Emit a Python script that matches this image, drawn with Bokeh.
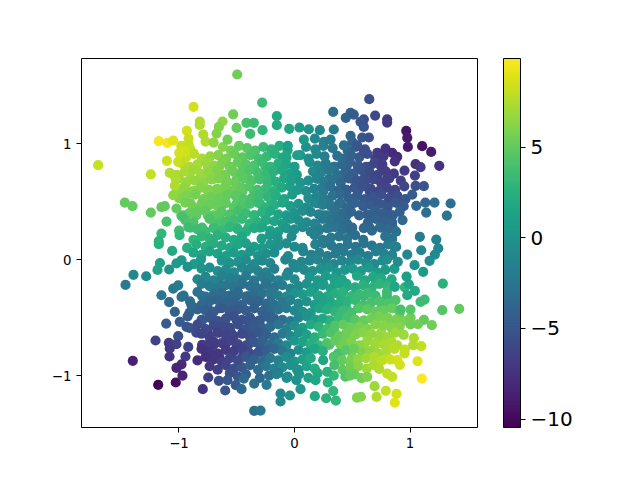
from bokeh.embed import file_html
from bokeh.resources import INLINE
from bokeh.plotting import figure
from bokeh.models import ColorBar, LinearColorMapper, FixedTicker, ColumnDataSource, Range1d
from bokeh.palettes import Viridis256

c_low, c_high = -10.46, 9.89
x_ticks = [-1, 0, 1]
y_ticks = [-1, 0, 1]
bar_ticks = [-10, -5, 0, 5]

# points read one at a time around the rim of the cloud
edge_x = [-0.496,-0.28,-0.874,-0.531,-0.153,-0.153,-0.82,-0.82,-0.623,-0.655,-0.675,-0.416,-0.352,-0.277,-0.384,-0.502,-0.932,-1.175,-1.1,-1.05,-0.917,-0.917,-0.79,-0.77,-0.7,-0.58,-1.7,-1.244,-1.105,-0.998,-0.95,-1.007,
 -1.469,-1.403,-1.244,-1.152,-1.123,-1.022,-1.05,-1.036,-1.08,-1.03,-1.108,-1.152,-1.175,-0.972,-1.175,-1.059,-1.186,-1.165,-1.394,-1.284,-1.463,-1.085,-1.022,-0.978,-0.926,-0.805,
 -1.152,-1.05,-1.007,-1.085,-0.978,-0.892,-1.036,-1.111,-0.993,-0.935,-1.007,-1.203,-1.088,-1.022,-1.08,-0.92,-1.082,-0.944,-1.4,-0.978,-1.022,-0.97,-1.18,-1.028,-0.794,-0.747,-0.655,-0.6,-0.58,-0.508,-0.459,-0.439,-0.349,-0.242,-0.349,-0.294,-0.156,-0.121,-0.121,
 -0.04,0.052,0.176,0.274,0.358,0.335,0.54,0.575,0.71,0.79,0.693,0.883,0.868,1.102,1.065,0.846,0.802,0.733,0.912,0.889,0.831,0.952,0.955,1.097,1.033,1.027,1.189,1.426,1.279,1.284,1.12,1.068,1.004,1.004,0.918,1.091,1.126,1.042,0.976,0.99,0.97,0.868,1.114,1.039,1.097,1.169,1.215,1.244,0.976,0.894,0.86,
 0.479,0.58,0.629,0.288,0.182,0.248,0.017,-0.069,0.023,0.283,
 0.647,0.335,0.485,0.444,0.513,0.698,0.802,0.802,0.6,0.571,0.6,0.967,0.976,0.981,1.105,1.183,1.253,1.048,1.091,0.952,1.042,1.048,1.12,1.019,1.351,1.212,1.132,1.054,1.14,1.319,1.085,1.227,
 -0.046,0.043,0.124,0.081,0.219,0.34,0.176,0.254,0.312,0.427,0.485,0.5,0.586,0.644,0.543,0.6,0.716,0.788,0.846,0.889,0.868,-0.058,0.023,-0.069,0.37]
edge_y = [1.595,1.353,1.316,1.252,1.236,1.158,1.19,1.16,1.19,1.143,1.086,1.178,1.178,1.115,1.084,1.135,1.11,1.02,1.006,1.026,1.043,0.99,1.078,1.017,1.008,1.034,0.813,0.735,0.851,0.92,0.928,0.842,
 0.491,0.46,0.405,0.451,0.46,0.44,0.554,0.64,0.747,0.7,0.327,0.224,0.158,0.37,0.132,0.075,-0.09,-0.03,-0.132,-0.144,-0.218,-0.086,-0.034,-0.006,-0.063,-0.078,
 -0.308,-0.25,-0.222,-0.368,-0.322,-0.394,-0.451,-0.552,-0.537,-0.58,-0.661,-0.698,-0.718,-0.73,-0.767,-0.753,-0.836,-0.836,-0.873,-0.903,-0.934,-1.0,-1.08,-1.06,-1.118,-1.017,-1.046,-1.129,-1.04,-1.083,-1.118,-1.026,-1.069,-1.08,-1.304,-1.302,-0.989,-1.155,-1.224,
 -1.172,-1.118,-1.178,-1.196,-1.216,-1.135,-1.19,-1.183,-1.184,-1.132,-1.092,-1.158,-1.233,-1.026,-0.877,-1.011,-0.983,-0.943,-0.908,-0.868,-0.862,-0.81,-0.776,-0.747,-0.678,-0.739,-0.566,-0.425,-0.437,-0.207,-0.52,-0.558,-0.56,-0.431,-0.431,-0.365,-0.345,-0.27,-0.308,-0.213,-0.147,-0.236,-0.106,-0.049,0.08,-0.011,0.043,0.097,0.043,-0.02,0.115,
 -1.0,-1.023,-1.011,-1.06,-1.04,-0.868,-1.04,-1.02,-0.954,-0.968,
 1.382,1.273,1.264,1.222,1.25,1.241,1.209,1.181,1.209,1.187,1.143,1.11,1.049,0.971,0.977,0.928,0.808,0.822,0.796,0.767,0.724,0.635,0.632,0.56,0.483,0.491,0.491,0.463,0.405,0.379,0.196,0.172,
 1.127,1.138,1.123,1.034,1.115,1.121,1.043,1.015,1.034,0.985,1.066,1.015,1.052,1.052,0.985,0.928,0.92,0.957,0.92,0.885,0.847,0.98,0.899,0.879,0.894]
edge_c = [5.5,3.5,8.5,5.5,2,2,7.5,7.5,6.5,6,6,4,3.5,3,3.5,5,8.5,9.7,9.5,9,8.3,8,7.5,7.5,6.5,5.5,8.2,8,8.3,8.5,8.5,8.3,
 5,5,5,5,5,5,6.5,7.5,7.5,7.5,4,3,2.5,4,2.5,2,1.3,1.3,-1,-0.8,-2,0,0.5,0.5,0,0,
 -2.5,-2.5,-2,-3.5,-3,-3.5,-4,-4.5,-4.5,-5,-5.5,-6.5,-7,-6.5,-7,-6.5,-7.5,-7,-8.7,-8,-8.3,-8.5,-10.3,-9.7,-7.5,-6.5,-5.5,-5,-5,-4.5,-3.5,-3.5,-3,-2,-3,-2.5,-1.5,-1,-1,
 0,0.5,2,2.5,3,3,6,6,7.5,8,7,8.5,9,9.9,9,8,8,7.5,8.5,8.5,8.3,8,8,8,7.5,7.5,5.5,5,4.5,2.5,5,5.5,5.5,4.5,4,3.5,3.5,2,2,1.5,1,1.5,0.5,0,-1,-0.5,-0.7,-1,-1,-0.5,-1.5,
 5,5.5,6,2.5,1.5,1.5,0,-0.5,0,2.5,
 -5.5,-3,-4,-4,-4.5,-6,-7,-7,-5.5,-5,-5,-9.3,-9,-9,-9.5,-9,-7.5,-7.5,-7,-7,-6.5,-5.5,-5,-4.5,-3,-3,-3.5,-3.5,-3,-2.5,-2,-1.5,
 1.5,0.5,0,0.5,-1,-2,-1,-1.5,-2,-3,-4,-4,-5,-5.5,-5,-5.5,-7,-7.5,-8,-8,-7.5,1,1,1.5,-3]

# the four dense lobes, read row by row
lobe_y = [0.8,0.695,0.59,0.485,0.38,0.275,-0.21,-0.315,-0.42,-0.525,-0.63,-0.735,-0.84]
lobe_x = [
 [-0.85,-0.75,-0.65,-0.55,-0.45,-0.35,-0.25,0.25,0.35,0.45,0.55,0.65,0.75],
 [-0.9,-0.8,-0.7,-0.6,-0.5,-0.4,-0.3,-0.2,0.2,0.3,0.4,0.5,0.6,0.7,0.8],
 [-0.95,-0.85,-0.75,-0.65,-0.55,-0.45,-0.35,-0.25,0.25,0.35,0.45,0.55,0.65,0.75,0.85],
 [-0.9,-0.8,-0.7,-0.6,-0.5,-0.4,-0.3,-0.2,0.2,0.3,0.4,0.5,0.6,0.7,0.8,0.9],
 [-0.95,-0.85,-0.75,-0.65,-0.55,-0.45,-0.35,-0.25,0.25,0.35,0.45,0.65,0.75,0.85],
 [-0.9,-0.8,-0.7,-0.6,-0.5,-0.4,-0.3,0.2,0.3,0.4,0.5,0.65,0.75,0.85],
 [-0.75,-0.65,-0.55,-0.45,-0.35,-0.25,0.25,0.35,0.45,0.6,0.7,0.8],
 [-0.8,-0.7,-0.6,-0.5,-0.4,-0.3,-0.2,0.2,0.3,0.4,0.5,0.6,0.7,0.8],
 [-0.85,-0.75,-0.65,-0.55,-0.45,-0.35,-0.25,0.25,0.35,0.45,0.55,0.65,0.75,0.85],
 [-0.8,-0.7,-0.6,-0.5,-0.4,-0.3,-0.2,0.2,0.3,0.4,0.5,0.6,0.7,0.8,0.9],
 [-0.85,-0.75,-0.65,-0.55,-0.45,-0.35,-0.25,0.25,0.35,0.45,0.55,0.65,0.75,0.85],
 [-0.8,-0.7,-0.6,-0.5,-0.4,-0.3,-0.2,0.3,0.4,0.5,0.6,0.7,0.8],
 [-0.75,-0.65,-0.55,-0.45,-0.35,-0.25,0.4,0.5,0.6,0.7,0.8],
]
lobe_c = [
 [7.3,6.8,6.2,5.5,4.9,4.1,3.1,-1.8,-2.9,-3.9,-4.8,-5.7,-6.6],
 [6.9,6.6,6.2,5.7,5.2,4.6,3.6,2.6,-1.2,-2.5,-3.7,-4.6,-5.3,-5.9,-6.4],
 [6.2,6,5.8,5.6,5.2,4.8,4,3.1,-2.1,-3.3,-4.2,-5,-5.6,-6,-6.2],
 [5.5,5.4,5.2,5,4.6,4,3.1,2.3,-1.5,-2.5,-3.5,-4.1,-4.6,-5,-5.1,-4.9],
 [4.7,4.8,4.7,4.5,4.2,3.6,2.9,2.2,-2,-2.9,-3.5,-4.2,-4.4,-4.3],
 [3.7,3.7,3.6,3.4,3,2.5,1.9,-1.6,-2.4,-3,-3.4,-3.7,-3.6,-3.1],
 [-2.1,-2.4,-2.6,-2.8,-2.9,-2.7,1.1,1.4,1.9,2.5,2.7,2.8],
 [-2.9,-3.1,-3.3,-3.4,-3.4,-3.3,-2.7,1.1,1.7,2.3,2.8,3.3,3.5,3.5],
 [-3.7,-4.2,-4.5,-4.7,-4.6,-4.3,-3.8,1.7,2.6,3.4,4.1,4.6,4.9,5],
 [-5,-5.3,-5.6,-5.5,-5.2,-4.6,-3.7,1.8,2.7,3.7,4.7,5.3,5.7,5.8,5.7],
 [-6,-6.3,-6.4,-6.2,-5.8,-5.1,-4.2,3.7,4.8,5.5,6,6.5,6.8,6.9],
 [-7,-7,-6.8,-6.4,-5.7,-4.8,-3.5,4.3,5.3,6,6.8,7.2,7.5],
 [-7.4,-7.2,-6.6,-5.8,-4.8,-3.6,4.7,5.7,6.7,7.4,7.8],
]

# points inside the cloud, read row by row
row_y = [0.96,0.89,0.82,0.75,0.68,0.61,0.54,0.47,0.40,0.33,0.26,0.19,0.12,0.05,-0.02,-0.09,-0.16,-0.23,-0.30,-0.37,-0.44,-0.51,-0.58,-0.65,-0.72,-0.79,-0.86,-0.93,-1.0]
row_shift = [0,0,0,0,0,0,0,0.015,0,0.015,0,-0.015,0.03,0.025,-0.03,0.025,-0.04,0.035,-0.04,0.035,-0.01,0.035,-0.03,0.015,-0.01,0.035,-0.04,-0.015,0]
row_x = [
 [-0.98,-0.9,-0.62,-0.55,-0.48,-0.41,-0.34,-0.27,-0.2,-0.13,-0.06,0.1,0.18,0.25,0.33,0.46,0.53,0.61],
 [-0.94,-0.87,-0.8,-0.73,-0.66,-0.59,-0.52,-0.45,-0.38,-0.31,-0.24,-0.17,-0.1,0.05,0.12,0.19,0.26,0.42,0.49,0.56,0.63,0.7,0.77],
 [-0.98,-0.91,-0.84,-0.77,-0.7,-0.63,-0.56,-0.49,-0.42,-0.35,-0.28,-0.21,-0.14,-0.07,0.0,0.13,0.2,0.27,0.34,0.41,0.48,0.55,0.62,0.69,0.76],
 [-1.02,-0.95,-0.88,-0.81,-0.74,-0.67,-0.6,-0.53,-0.46,-0.39,-0.32,-0.25,-0.18,-0.11,-0.04,0.02,0.16,0.23,0.3,0.37,0.44,0.51,0.58,0.65,0.72,0.79,0.86],
 [-1.0,-0.93,-0.86,-0.79,-0.72,-0.65,-0.58,-0.51,-0.44,-0.37,-0.3,-0.23,-0.16,-0.09,-0.02,0.05,0.12,0.19,0.26,0.33,0.4,0.47,0.54,0.61,0.68,0.75,0.82,0.92],
 [-1.02,-0.95,-0.88,-0.81,-0.74,-0.67,-0.6,-0.53,-0.46,-0.39,-0.32,-0.25,-0.18,-0.11,-0.04,0.03,0.1,0.17,0.24,0.31,0.38,0.45,0.52,0.59,0.66,0.73,0.8,0.87,0.95],
 [-1.0,-0.93,-0.86,-0.79,-0.72,-0.65,-0.58,-0.51,-0.44,-0.37,-0.3,-0.23,-0.16,-0.09,-0.02,0.12,0.19,0.26,0.33,0.4,0.47,0.54,0.61,0.68,0.75,0.82,0.89,0.96],
 [-0.96,-0.89,-0.82,-0.75,-0.68,-0.61,-0.54,-0.47,-0.4,-0.33,-0.26,-0.19,-0.12,-0.05,0.02,0.09,0.16,0.23,0.3,0.37,0.44,0.51,0.58,0.65,0.72,0.79,0.86,0.93],
 [-0.98,-0.91,-0.84,-0.77,-0.7,-0.63,-0.56,-0.49,-0.42,-0.35,-0.28,-0.21,-0.14,-0.07,0.0,0.07,0.14,0.21,0.28,0.35,0.42,0.49,0.56,0.63,0.7,0.77,0.84,0.91],
 [-0.96,-0.89,-0.75,-0.68,-0.61,-0.54,-0.47,-0.4,-0.33,-0.26,-0.19,-0.12,-0.05,0.02,0.09,0.16,0.23,0.3,0.37,0.44,0.62,0.69,0.76,0.83,0.92],
 [-1.0,-0.92,-0.84,-0.77,-0.7,-0.63,-0.56,-0.49,-0.42,-0.35,-0.28,-0.21,-0.14,-0.07,0.0,0.07,0.14,0.21,0.28,0.35,0.42,0.49,0.6,0.67,0.74,0.81,0.88],
 [-0.98,-0.86,-0.79,-0.72,-0.65,-0.58,-0.51,-0.44,-0.27,-0.2,-0.13,-0.01,0.19,0.26,0.33,0.4,0.47,0.54,0.61,0.8,0.86],
 [-0.96,-0.88,-0.8,-0.73,-0.66,-0.59,-0.52,-0.45,-0.38,-0.31,-0.24,-0.17,-0.1,-0.03,0.04,0.15,0.22,0.29,0.36,0.43,0.5,0.57,0.64,0.71,0.78,0.85],
 [-0.9,-0.83,-0.76,-0.69,-0.62,-0.55,-0.48,-0.41,-0.34,-0.27,-0.2,-0.08,0.05,0.12,0.19,0.26,0.33,0.4,0.47,0.54,0.61,0.68,0.75,0.82],
 [-0.84,-0.78,-0.6,-0.53,-0.46,-0.39,-0.32,-0.25,-0.18,-0.05,0.02,0.09,0.16,0.23,0.3,0.37,0.44,0.51,0.58,0.65,0.72,0.79,0.83],
 [-0.76,-0.69,-0.62,-0.55,-0.48,-0.41,-0.34,-0.27,-0.2,-0.08,-0.01,0.06,0.13,0.2,0.27,0.34,0.41,0.48,0.55,0.62,0.69,0.76,0.84],
 [-0.8,-0.73,-0.66,-0.59,-0.52,-0.45,-0.38,-0.31,-0.24,-0.17,-0.1,-0.03,0.04,0.17,0.24,0.31,0.38,0.45,0.58,0.65,0.72,0.79,0.88],
 [-0.84,-0.77,-0.7,-0.63,-0.56,-0.49,-0.42,-0.35,-0.28,-0.21,-0.14,-0.07,0.0,0.07,0.14,0.21,0.28,0.35,0.42,0.49,0.56,0.63,0.7,0.77,0.92],
 [-0.92,-0.8,-0.73,-0.66,-0.59,-0.52,-0.45,-0.38,-0.31,-0.24,-0.17,-0.1,-0.03,0.04,0.11,0.18,0.25,0.32,0.39,0.46,0.53,0.6,0.67,0.74,0.84],
 [-0.94,-0.84,-0.77,-0.7,-0.63,-0.56,-0.49,-0.42,-0.35,-0.28,-0.21,-0.14,-0.07,0.0,0.07,0.14,0.21,0.28,0.35,0.42,0.49,0.56,0.63,0.7,0.77,0.84],
 [-0.9,-0.83,-0.76,-0.69,-0.62,-0.55,-0.48,-0.41,-0.34,-0.27,-0.2,-0.13,-0.06,0.01,0.08,0.15,0.22,0.29,0.36,0.43,0.5,0.57,0.64,0.71,0.78,0.85,0.92],
 [-0.96,-0.84,-0.77,-0.7,-0.63,-0.56,-0.49,-0.42,-0.35,-0.28,-0.21,-0.14,-0.07,0.0,0.07,0.14,0.21,0.28,0.35,0.42,0.49,0.56,0.63,0.7,0.77,0.84,0.91,0.97],
 [-0.88,-0.81,-0.74,-0.67,-0.6,-0.53,-0.46,-0.39,-0.32,-0.25,-0.18,-0.11,-0.04,0.03,0.1,0.17,0.24,0.31,0.38,0.45,0.52,0.59,0.66,0.73,0.8,0.87,0.94],
 [-0.82,-0.75,-0.68,-0.61,-0.54,-0.47,-0.4,-0.33,-0.26,-0.19,-0.12,-0.05,0.02,0.09,0.16,0.23,0.3,0.37,0.44,0.51,0.58,0.65,0.72,0.79,0.86,0.93],
 [-0.76,-0.69,-0.62,-0.55,-0.48,-0.41,-0.34,-0.27,-0.2,-0.13,-0.06,0.01,0.08,0.15,0.22,0.29,0.36,0.43,0.5,0.57,0.64,0.71,0.78,0.85,0.9],
 [-0.84,-0.77,-0.7,-0.63,-0.56,-0.49,-0.42,-0.35,-0.28,-0.21,-0.14,-0.07,0.0,0.07,0.14,0.21,0.34,0.41,0.48,0.55,0.62,0.69,0.76,0.83],
 [-0.8,-0.73,-0.66,-0.59,-0.52,-0.45,-0.38,-0.31,-0.24,-0.17,-0.1,-0.03,0.04,0.11,0.18,0.38,0.45,0.52,0.59,0.66,0.73,0.8],
 [-0.72,-0.65,-0.58,-0.51,-0.44,-0.37,-0.3,-0.23,-0.16,-0.09,-0.02,0.05,0.12,0.19,0.36,0.43,0.5,0.57,0.64,0.7],
 [-0.56,-0.49,-0.42,-0.3,-0.22,-0.14,-0.06,0.04,0.12,0.2,0.34,0.44,0.52],
]
# how far each point sits above or below its row, in hundredths
row_nudge = [
 [2,-1,1,-2,2,0,-2,1,-1,2,-2,1,-1,2,0,-2,1,-1],
 [-1,2,-2,0,1,-2,2,-1,1,-2,0,2,-1,1,-2,2,0,-2,1,-1,2,-2,0],
 [1,-2,0,2,-1,1,-2,2,0,-1,2,-2,1,0,-2,2,-1,1,-2,0,2,-1,-2,1,0],
 [-2,1,2,-1,0,2,-2,1,-1,2,0,-2,1,2,-1,-2,1,0,2,-2,1,-1,2,0,-2,1,-1],
 [2,-1,0,-2,1,2,-1,-2,2,0,1,-2,-1,2,1,-2,0,2,-1,1,-2,2,0,-1,1,-2,2,0],
 [0,2,-2,1,-1,0,2,-2,1,2,-1,0,-2,1,2,-1,-2,0,1,2,-2,-1,1,2,0,-2,1,-1,2],
 [-1,1,2,-2,0,-1,2,1,-2,-1,2,0,1,-2,2,-1,0,-2,1,2,-1,1,-2,0,2,-1,1,-2],
 [2,-2,1,0,-1,2,-2,-1,1,2,-2,0,2,-1,1,-2,2,0,-1,1,-2,2,-1,0,1,-2,2,-1],
 [-2,0,1,2,-2,1,-1,2,0,-2,1,2,-1,-2,0,2,1,-1,-2,2,0,1,-2,-1,2,0,-2,1],
 [1,-1,2,-2,0,1,2,-2,-1,1,0,-2,2,1,-1,-2,2,0,1,-2,-1,2,0,-1,1],
 [-1,2,0,-2,1,-1,2,0,-2,1,2,-1,-2,1,0,2,-2,-1,1,2,0,-2,1,-1,2,0,-2],
 [2,-2,1,-1,2,0,-2,1,-1,2,-1,1,2,-2,0,1,-1,2,-2,1,-1],
 [-2,1,-1,2,0,-2,1,2,-1,-2,1,0,2,-1,-2,1,2,0,-2,1,-1,2,0,-2,1,-1],
 [1,-1,2,0,-2,1,-1,2,-2,0,1,-2,2,-1,1,-2,0,2,-1,1,-2,2,0,-1],
 [-2,2,1,-1,0,2,-2,1,-1,2,-2,0,1,2,-1,-2,1,0,2,-1,-2,1,2],
 [2,-1,0,-2,2,1,-1,-2,1,-2,2,0,-1,1,2,-2,0,1,-1,2,-2,0,1],
 [-1,1,-2,2,0,-1,2,-2,1,0,-2,2,-1,1,-2,2,0,-1,2,-2,1,0,-1],
 [2,0,-2,1,-1,2,0,-2,2,-1,1,-2,0,2,-1,1,-2,2,0,-1,1,-2,2,0,-1],
 [-1,2,-2,0,1,-1,2,-2,0,1,2,-1,-2,1,0,2,-1,-2,1,2,-2,0,1,-1,2],
 [1,-2,1,2,-1,0,-2,2,1,-1,-2,0,2,-1,1,-2,2,0,-1,1,2,-2,0,1,-1,2],
 [-2,1,0,-1,2,-2,1,0,2,-1,-2,1,2,0,-1,-2,2,1,-1,0,-2,2,1,-1,0,2,-2],
 [2,-1,1,-2,0,2,-1,1,-2,2,0,-1,-2,1,2,-1,0,-2,2,1,-1,-2,0,2,1,-1,-2,1],
 [-1,2,-2,1,0,-1,2,-2,1,-1,0,2,-2,1,-1,2,0,-2,1,2,-1,0,-2,2,1,-1,0],
 [1,-2,2,0,-1,1,-2,2,0,-2,1,-1,2,0,-2,1,2,-1,-2,0,2,1,-1,-2,2,0],
 [-2,1,0,2,-1,-2,1,2,-1,0,-2,2,1,-1,-2,0,2,-1,1,-2,2,0,-1,1,-2],
 [2,-1,-2,1,0,2,-2,-1,1,2,0,-2,1,-1,2,0,-2,1,2,-1,0,-2,1,2],
 [-1,2,0,-2,1,-1,2,0,-2,1,-1,2,-2,0,1,2,-1,-2,0,1,2,-1],
 [1,-2,2,-1,0,2,-2,1,-1,0,2,-2,1,-1,2,-2,0,1,-1,2],
 [2,-1,1,-2,0,2,-1,1,-2,2,0,-1,1],
]
row_c = [
 [8.3,8,6.2,5.6,5.1,4.7,4.1,3.4,2.8,2.1,1.5,-0.2,-0.9,-1.6,-2.4,-3.8,-4.5,-5.3],
 [8,7.8,7.3,6.6,6.1,5.7,5.3,4.8,4.4,3.8,3.2,2.5,1.8,0.4,-0.3,-0.9,-1.7,-3.4,-4.1,-4.8,-5.5,-6.3,-7],
 [7.8,7.5,7.2,6.8,6.4,5.9,5.5,5.1,4.6,4.1,3.5,2.9,2.2,1.5,0.8,-0.4,-1.1,-1.9,-2.6,-3.4,-4.1,-4.8,-5.5,-6.2,-6.8],
 [7.5,7.3,7,6.8,6.4,6,5.6,5.2,4.8,4.4,3.9,3.3,2.6,1.9,1.2,0.6,-0.7,-1.5,-2.3,-3,-3.8,-4.4,-5.1,-5.7,-6.3,-6.8,-7],
 [7,6.8,6.6,6.4,6.2,5.9,5.6,5.2,4.8,4.3,3.7,3.1,2.4,1.6,0.9,0.2,-0.5,-1.3,-2.1,-2.9,-3.7,-4.3,-5,-5.5,-5.9,-6.3,-6.6,-6.6],
 [6.6,6.5,6.3,6.1,6,5.8,5.6,5.3,4.9,4.5,3.9,3.3,2.6,1.9,1.1,0.4,-0.5,-1.3,-2.1,-3,-3.8,-4.4,-4.9,-5.4,-5.8,-6.1,-6.4,-6.4,-6.2],
 [6,5.9,5.7,5.6,5.4,5.3,5.1,4.8,4.4,4,3.5,2.9,2.2,1.5,0.8,-0.5,-1.2,-2,-2.8,-3.5,-4,-4.5,-4.9,-5.2,-5.5,-5.7,-5.6,-5],
 [5.6,5.5,5.4,5.3,5.2,5,4.7,4.3,3.9,3.4,2.8,2.3,1.6,0.9,0.2,-0.4,-1,-1.7,-2.5,-3.1,-3.6,-4.1,-4.5,-4.8,-5,-5,-5,-4.8],
 [4.9,5,5,4.9,4.8,4.6,4.3,3.9,3.5,3,2.5,2,1.4,0.7,0.1,-0.5,-1.1,-1.7,-2.3,-2.9,-3.4,-3.8,-4.1,-4.3,-4.4,-4.5,-4.5,-4.2],
 [4.2,4.2,4.2,4.1,4,3.6,3.3,2.9,2.5,2,1.4,0.9,0.3,-0.3,-0.9,-1.4,-2,-2.6,-3.1,-3.5,-4,-4.1,-4.2,-4.1,-3.5],
 [3.7,3.6,3.6,3.6,3.5,3.3,3,2.7,2.4,2,1.6,1.2,0.7,0.2,-0.3,-0.8,-1.3,-1.8,-2.3,-2.7,-3.1,-3.4,-3.6,-3.6,-3.6,-3.4,-3],
 [3,3,2.9,2.8,2.6,2.3,2,1.7,0.9,0.5,0.1,-0.6,-1.6,-2,-2.4,-2.7,-2.9,-3.1,-3.2,-2.9,-2.6],
 [2.4,2.4,2.3,2.2,2,1.8,1.5,1.2,0.9,0.6,0.2,-0.1,-0.4,-0.7,-1,-1.5,-1.9,-2.2,-2.4,-2.5,-2.6,-2.6,-2.5,-2.3,-2.1,-1.9],
 [1.6,1.5,1.4,1.2,1,0.8,0.6,0.3,0,-0.3,-0.6,-0.9,-1.3,-1.5,-1.7,-1.9,-2,-2.1,-2.1,-2,-1.9,-1.7,-1.5,-1.3],
 [0.7,0.5,0.2,0,-0.2,-0.4,-0.6,-0.8,-1,-1.3,-1.2,-1.2,-1.2,-1.2,-1.2,-1.2,-1.1,-1,-0.9,-0.8,-0.7,-0.6,-0.5],
 [-0.3,-0.5,-0.7,-0.9,-1,-1.2,-1.4,-1.6,-1.7,-1.4,-1,-0.7,-0.4,-0.2,0,0.2,0.3,0.4,0.5,0.5,0.6,0.6,0.7],
 [-1,-1.1,-1.3,-1.5,-1.7,-1.9,-2,-2.2,-2.1,-1.9,-1.5,-1,-0.5,0.2,0.5,0.8,1,1.3,1.7,1.8,1.9,2,2],
 [-1.8,-2,-2.2,-2.4,-2.6,-2.8,-2.9,-3,-2.9,-2.6,-2,-1.4,-0.8,-0.2,0.4,0.8,1.2,1.5,1.9,2.2,2.6,2.7,2.8,2.9,2.8],
 [-2.6,-2.9,-3,-3.2,-3.3,-3.4,-3.4,-3.4,-3.3,-3,-2.4,-1.7,-0.9,-0.1,0.5,1,1.4,1.8,2.2,2.6,3,3.3,3.4,3.5,3.5],
 [-3.3,-3.5,-3.7,-3.8,-4,-4.1,-4.1,-4,-3.9,-3.6,-3.1,-2.4,-1.6,-0.8,0,0.7,1.2,1.7,2.2,2.7,3.2,3.7,4,4.2,4.3,4.3],
 [-3.9,-4.1,-4.4,-4.6,-4.8,-4.8,-4.7,-4.6,-4.4,-4,-3.5,-2.8,-2,-1.1,-0.3,0.6,1.4,2.1,2.8,3.4,3.9,4.4,4.8,5,5.1,5.1,5],
 [-4.6,-4.8,-5.1,-5.3,-5.4,-5.5,-5.4,-5.2,-4.8,-4.4,-3.8,-3.1,-2.2,-1.1,-0.2,0.9,1.7,2.5,3.3,4,4.6,5.1,5.5,5.7,5.8,5.8,5.7,5.5],
 [-5.5,-5.7,-5.9,-6,-6,-5.9,-5.6,-5.3,-4.8,-4.2,-3.5,-2.6,-1.6,-0.3,0.8,1.8,2.7,3.5,4.4,5,5.4,5.7,5.9,6.1,6.2,6.2,6.1],
 [-6.3,-6.5,-6.5,-6.4,-6.2,-5.9,-5.6,-5,-4.3,-3.4,-2.4,-1.2,0.1,1.2,2.3,3.3,4.2,5,5.5,5.9,6.2,6.5,6.7,6.9,6.9,6.9],
 [-6.9,-6.9,-6.8,-6.5,-6.2,-5.6,-5,-4.2,-3.3,-2.2,-1,0.2,1.2,2.3,3.2,4.2,5,5.5,5.9,6.3,6.7,7,7.2,7.4,7.5],
 [-7.5,-7.4,-7.3,-7.1,-6.8,-6.4,-5.8,-5.2,-4.4,-3.6,-2.6,-1.5,-0.3,0.7,1.6,2.4,4,4.7,5.3,5.9,6.5,6.9,7.3,7.7],
 [-7.8,-7.6,-7.3,-6.9,-6.4,-5.8,-5,-4.2,-3.3,-2.4,-1.5,-0.6,0.3,1.1,2,4.3,5.1,5.7,6.4,7,7.5,7.9],
 [-7.2,-6.7,-6.2,-5.6,-4.9,-4.1,-3.2,-2.4,-1.5,-0.6,0,0.6,1.3,2.1,4,4.8,5.5,6.3,7,7.4],
 [-5.6,-5,-4.4,-3.6,-2.8,-1.9,-1,0.2,1.2,2,3.2,4.3,5.2],
]

xs, ys, cs = [], [], []
for y, rx, rc in zip(lobe_y, lobe_x, lobe_c):
    for a, b in zip(rx, rc):
        xs.append(a); ys.append(y); cs.append(b)
for y, shift, rx, rn, rc in zip(row_y, row_shift, row_x, row_nudge, row_c):
    for a, n, b in zip(rx, rn, rc):
        xs.append(a + shift); ys.append(y + n / 100); cs.append(b)
xs += edge_x; ys += edge_y; cs += edge_c

mapper = LinearColorMapper(palette=Viridis256, low=c_low, high=c_high)
p = figure(frame_width=396, frame_height=369, output_backend="svg", toolbar_location=None,
           x_range=Range1d(-1.844, 1.584), y_range=Range1d(-1.448, 1.733),
           min_border_left=81, min_border_top=58, min_border_bottom=45, min_border_right=10)
src = ColumnDataSource(dict(x=xs, y=ys, c=cs))
p.scatter("x", "y", size=10.2, source=src, line_color=None,
          fill_color={"field": "c", "transform": mapper})
p.grid.visible = False
p.outline_line_color = "black"
p.outline_line_width = 1
for ax, t in ((p.xaxis, x_ticks), (p.yaxis, y_ticks)):
    ax.ticker = FixedTicker(ticks=t)
    ax.major_label_overrides = {v: str(v).replace("-", "\u2212") for v in t}
    ax.major_tick_in = 0
    ax.major_tick_out = 5
    ax.minor_tick_line_color = None
    ax.axis_line_color = None
    ax.major_label_text_font = "DejaVu Sans"
    ax.major_label_text_font_size = "13.33px"
    ax.major_label_text_color = "black"
    ax.major_tick_line_color = "black"

cb = ColorBar(color_mapper=mapper, width=17, height=369, margin=0, padding=0, location=(26, 0),
              ticker=FixedTicker(ticks=bar_ticks),
              major_label_overrides={v: str(v).replace("-", "\u2212") for v in bar_ticks},
              major_label_text_font="DejaVu Sans", major_label_text_font_size="20px",
              major_label_text_color="black",
              major_tick_in=0, major_tick_out=5, major_tick_line_color="black",
              minor_tick_line_color=None, bar_line_color="black", bar_line_width=1,
              label_standoff=5)
p.add_layout(cb, "right")

open("out.html", "w").write(file_html(p, INLINE))
